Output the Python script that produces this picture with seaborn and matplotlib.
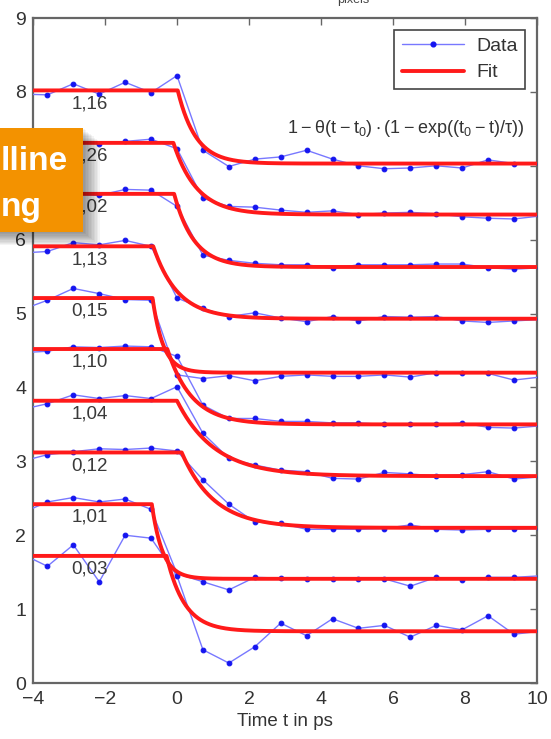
import numpy as np
import pandas as pd
import matplotlib
matplotlib.use("Agg")
import matplotlib.pyplot as plt
from matplotlib.patches import Rectangle
from matplotlib.lines import Line2D
import seaborn as sns

# ---------------- data ----------------
times = [-4.32, -3.60, -2.88, -2.16, -1.44, -0.72, 0.00, 0.72, 1.44, 2.16, 2.88,
         3.60, 4.32, 5.04, 5.76, 6.48, 7.20, 7.92, 8.64, 9.36, 10.08]

trace_labels = ["1,16", "1,26", "1,02", "1,13", "0,15",
                "1,10", "1,04", "0,12", "1,01", "0,03"]

data_1 = [7.97, 7.96, 8.11, 7.97, 8.13, 7.99, 8.22, 7.21, 6.99, 7.09, 7.12,
          7.21, 7.09, 7.00, 6.96, 6.97, 7.00, 6.97, 7.08, 7.03, 7.03]
data_2 = [7.28, 7.30, 7.33, 7.30, 7.33, 7.36, 7.23, 6.56, 6.45, 6.44, 6.40,
          6.37, 6.39, 6.34, 6.36, 6.37, 6.35, 6.31, 6.29, 6.28, 6.32]
data_3 = [6.60, 6.58, 6.62, 6.60, 6.68, 6.67, 6.45, 5.79, 5.72, 5.68, 5.66,
          5.66, 5.61, 5.66, 5.66, 5.66, 5.67, 5.67, 5.62, 5.60, 5.62]
data_4 = [5.82, 5.84, 5.96, 5.93, 5.99, 5.91, 5.21, 5.07, 4.96, 5.01, 4.94,
          4.89, 4.96, 4.90, 4.96, 4.95, 4.96, 4.90, 4.88, 4.90, 4.92]
data_5 = [5.05, 5.18, 5.34, 5.27, 5.19, 5.18, 4.17, 4.12, 4.16, 4.09, 4.15,
          4.17, 4.15, 4.15, 4.17, 4.14, 4.20, 4.20, 4.19, 4.10, 4.14]
data_6 = [4.47, 4.49, 4.55, 4.54, 4.56, 4.55, 4.42, 3.76, 3.58, 3.58, 3.54,
          3.54, 3.52, 3.52, 3.50, 3.50, 3.50, 3.52, 3.46, 3.45, 3.48]
data_7 = [3.70, 3.78, 3.90, 3.85, 3.89, 3.85, 4.01, 3.38, 3.04, 2.95, 2.88,
          2.86, 2.77, 2.76, 2.85, 2.83, 2.80, 2.82, 2.86, 2.76, 2.79]
data_8 = [3.00, 3.09, 3.13, 3.17, 3.16, 3.18, 3.14, 2.75, 2.42, 2.18, 2.16,
          2.08, 2.08, 2.08, 2.09, 2.14, 2.08, 2.07, 2.08, 2.08, 2.09]
data_9 = [2.30, 2.45, 2.51, 2.45, 2.49, 2.35, 1.48, 1.37, 1.26, 1.43, 1.42,
          1.41, 1.41, 1.41, 1.41, 1.31, 1.43, 1.40, 1.43, 1.43, 1.45]
data_10 = [1.75, 1.58, 1.87, 1.37, 2.00, 1.96, 1.45, 0.45, 0.27, 0.49, 0.81,
           0.64, 0.87, 0.74, 0.78, 0.62, 0.78, 0.72, 0.91, 0.66, 0.70]
all_data = [data_1, data_2, data_3, data_4, data_5,
            data_6, data_7, data_8, data_9, data_10]

# fit parameters: level before, level after, t0, tau
fit_before = [8.02, 7.31, 6.62, 5.91, 5.21, 4.52, 3.82, 3.12, 2.42, 1.72]
fit_after = [7.03, 6.34, 5.63, 4.93, 4.20, 3.50, 2.80, 2.10, 1.41, 0.70]
fit_t0 = [0.02, -0.10, -0.08, -0.66, -0.68, -0.27, 0.00, 0.13, -0.70, -0.29]
fit_tau = [0.50, 0.65, 0.55, 0.68, 0.30, 0.68, 1.05, 0.90, 0.30, 0.50]

x_ticks = [-4, -2, 0, 2, 4, 6, 8, 10]
y_ticks = [0, 1, 2, 3, 4, 5, 6, 7, 8, 9]

# ---------------- style ----------------
sns.set_theme(style="white")
plt.rcParams["font.family"] = ["Liberation Sans", "DejaVu Sans"]
plt.rcParams["mathtext.default"] = "regular"

W, H = 551, 739
fig = plt.figure(figsize=(W / 100, H / 100), dpi=100)
ax = fig.add_axes([33 / W, 1 - 683 / H, (537 - 33) / W, (683 - 18) / H])

blue_line = "#7878FF"
blue_mark = "#1515F0"
red = "#FF1A1A"

t_fine = np.linspace(-4.5, 10.5, 3001)

for i in range(len(all_data)):
    df = pd.DataFrame({"t": times, "v": all_data[i]})
    sns.lineplot(data=df, x="t", y="v", ax=ax, color=blue_line, lw=1.0,
                 marker="o", markersize=3.4, markerfacecolor=blue_mark,
                 markeredgecolor=blue_mark, sort=False, estimator=None,
                 zorder=3)
    t0 = fit_t0[i]
    tau = fit_tau[i]
    amp = fit_before[i] - fit_after[i]
    step = np.where(t_fine >= t0, 1.0, 0.0)
    fit = fit_after[i] + amp * (1 - step * (1 - np.exp(np.minimum(t0 - t_fine, 0) / tau)))
    dff = pd.DataFrame({"t": t_fine, "v": fit})
    sns.lineplot(data=dff, x="t", y="v", ax=ax, color=red, lw=2.8,
                 sort=False, estimator=None, zorder=4)
    ax.text(-2.42, fit_before[i] - 0.18, trace_labels[i], ha="center",
            va="center", fontsize=13.5, color="#3a3a3a", zorder=5)

ax.set_xlim(-4, 10)
ax.set_ylim(0, 9)
ax.set_xticks(x_ticks)
ax.set_xticklabels([str(v).replace("-", "\u2212") for v in x_ticks])
ax.set_yticks(y_ticks)
ax.set_yticklabels([str(v) for v in y_ticks])
ax.set_xlabel("Time t in ps", fontsize=13.5, color="#333333", labelpad=3)
ax.set_ylabel("")
ax.tick_params(axis="both", direction="in", length=5, width=1, color="#666666",
               top=True, right=True, labelsize=14, labelcolor="#333333")
ax.tick_params(axis="x", pad=6)
ax.tick_params(axis="y", pad=5)
for s in ax.spines.values():
    s.set_color("#666666")
    s.set_linewidth(1.6)
ax.grid(False)

ax.text(9.67, 7.51, r"$1-\theta(t-t_0)\cdot(1-exp((t_0-t)/\tau))$",
        ha="right", va="center", fontsize=13, color="#333333", zorder=5)

handles = [Line2D([], [], color=blue_line, lw=1.0, marker="o", markersize=3.4,
                  markerfacecolor=blue_mark, markeredgecolor=blue_mark),
           Line2D([], [], color=red, lw=2.8)]
leg = ax.legend(handles, ["Data", "Fit"], loc="upper right", fontsize=14,
                frameon=True, fancybox=False, framealpha=1,
                edgecolor="#444444", borderaxespad=0.6, handlelength=3.2,
                handletextpad=0.6, borderpad=0.4, labelspacing=0.45)
leg.get_frame().set_linewidth(1.2)
for t in leg.get_texts():
    t.set_color("#333333")

# cropped text at the very top
fig.text(353 / W, 1 - 3.5 / H, "pixels", ha="center", va="baseline",
         fontsize=9, color="#444444")

# orange overlay box with shadow
for k in range(12):
    fig.patches.append(Rectangle((0, 1 - (232 + 1.2 * k) / H),
                                 (83 + 1.5 * k) / W, (232 - 128) / H,
                                 transform=fig.transFigure, facecolor="black",
                                 edgecolor="none", alpha=0.045, zorder=20))
fig.patches.append(Rectangle((0, 1 - 232 / H), 83 / W, (232 - 128) / H,
                             transform=fig.transFigure, facecolor="#F39200",
                             edgecolor="none", zorder=21))
fig.text(0.5 / W, 1 - 170 / H, "lline", ha="left", va="baseline", fontsize=24,
         fontweight="bold", color="white", zorder=22)
fig.text(0.5 / W, 1 - 216 / H, "ng", ha="left", va="baseline", fontsize=24,
         fontweight="bold", color="white", zorder=22)

fig.savefig("out.png", dpi=100)
